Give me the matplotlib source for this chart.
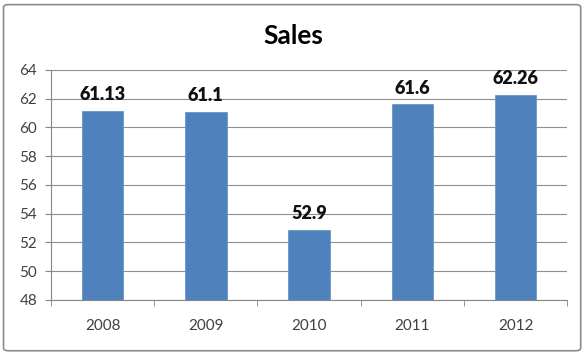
import matplotlib.pyplot as plt
from matplotlib.patches import FancyBboxPatch

years = ['2008', '2009', '2010', '2011', '2012']
sales = [61.13, 61.1, 52.9, 61.6, 62.26]
labels = ['61.13', '61.1', '52.9', '61.6', '62.26']

plt.rcParams['font.family'] = ['Lato', 'DejaVu Sans']

fig = plt.figure(figsize=(5.86, 3.55), dpi=100)
ax = fig.add_axes([0.087, 0.155, 0.881, 0.648])

x = range(len(years))
ax.bar(x, [s - 48 for s in sales], bottom=48, width=0.4, color='#4F81BD',
       edgecolor='#6A96CC', linewidth=0.6, zorder=3)
for i, (s, lab) in enumerate(zip(sales, labels)):
    ax.text(i, s + 0.55, lab, ha='center', va='bottom', fontsize=13,
            fontweight='heavy', color='#111111', zorder=4)

ax.set_ylim(48, 64)
ax.set_yticks(range(48, 65, 2))
ax.set_xlim(-0.5, len(years) - 0.5)
ax.set_xticks(list(x))
ax.set_xticklabels(years)
ax.set_xticks([i - 0.5 for i in range(len(years) + 1)], minor=True)
ax.tick_params(axis='x', which='major', length=0, pad=14, labelsize=11,
               labelcolor='#404040')
ax.tick_params(axis='x', which='minor', length=4, color='#868686', direction='out')
ax.tick_params(axis='y', length=4, color='#868686', labelsize=11,
               labelcolor='#404040', pad=6)
ax.grid(axis='y', color='#8f8f8f', linewidth=0.8, zorder=0)
for side in ['top', 'right']:
    ax.spines[side].set_visible(False)
for side in ['left', 'bottom']:
    ax.spines[side].set_color('#868686')
    ax.spines[side].set_linewidth(0.8)

fig.text(0.5, 0.9, 'Sales', ha='center', va='center', fontsize=19,
         fontweight='bold', color='#000000')

frame = FancyBboxPatch((0.006, 0.012), 0.985, 0.975,
                       boxstyle='round,pad=0,rounding_size=0.008',
                       transform=fig.transFigure, facecolor='none',
                       edgecolor='#8c8c8c', linewidth=1.2)
fig.patches.append(frame)

fig.savefig('out.png', dpi=100)
